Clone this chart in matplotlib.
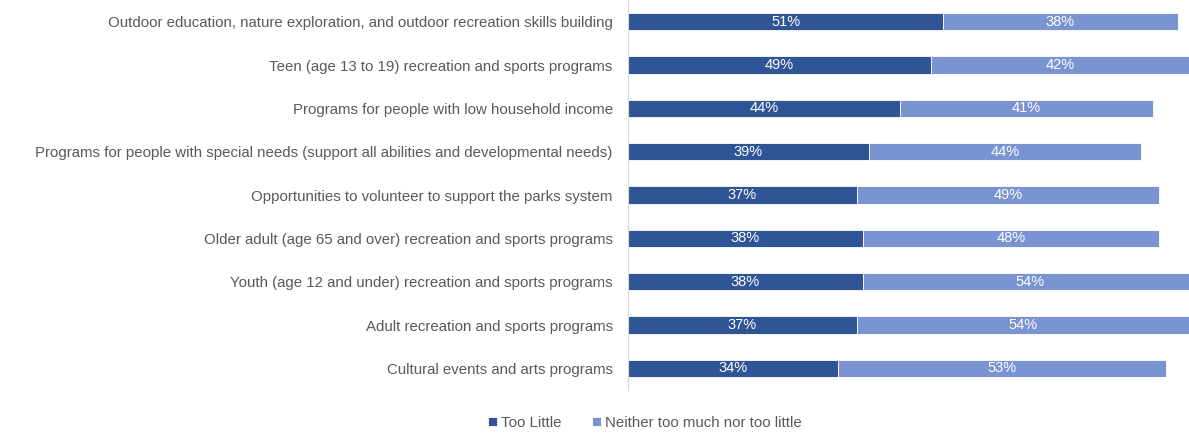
import matplotlib.pyplot as plt

categories = [
    'Outdoor education, nature exploration, and outdoor recreation skills building',
    'Teen (age 13 to 19) recreation and sports programs',
    'Programs for people with low household income',
    'Programs for people with special needs (support all abilities and developmental needs)',
    'Opportunities to volunteer to support the parks system',
    'Older adult (age 65 and over) recreation and sports programs',
    'Youth (age 12 and under) recreation and sports programs',
    'Adult recreation and sports programs',
    'Cultural events and arts programs',
]
too_little = [51, 49, 44, 39, 37, 38, 38, 37, 34]
neither = [38, 42, 41, 44, 49, 48, 54, 54, 53]
series_names = ['Too Little', 'Neither too much nor too little']
colors = ['#2F5597', '#7A93D1']

plt.rcParams['font.family'] = ['Liberation Sans', 'DejaVu Sans']

fig = plt.figure(figsize=(11.89, 4.34), dpi=100)
ax = fig.add_axes([628 / 1189, 44 / 434, 1 - 628 / 1189, 390 / 434])

y = list(range(len(categories)))
b1 = ax.barh(y, too_little, height=0.4, color=colors[0], edgecolor='white', linewidth=0.6, label=series_names[0])
b2 = ax.barh(y, neither, left=too_little, height=0.4, color=colors[1], edgecolor='white', linewidth=0.6, label=series_names[1])

for i in y:
    ax.text(too_little[i] / 2, i, f'{too_little[i]}%', ha='center', va='center', color='white', fontsize=10.5)
    ax.text(too_little[i] + neither[i] / 2, i, f'{neither[i]}%', ha='center', va='center', color='white', fontsize=10.5)

ax.set_xlim(0, 90.8)
ax.set_ylim(len(categories) - 0.5, -0.5)
ax.set_yticks(y)
ax.set_yticklabels(categories, fontsize=10.8, color='#595959')
ax.tick_params(axis='y', length=0, pad=11)
ax.set_xticks([])
for s in ['top', 'right', 'bottom']:
    ax.spines[s].set_visible(False)
ax.spines['left'].set_color('#D9D9D9')

fig.legend(handles=[b1, b2], loc='center', bbox_to_anchor=(645 / 1189, 1 - 423 / 434), ncol=2,
           frameon=False, fontsize=10.8, labelcolor='#595959', handlelength=0.6, handleheight=0.6,
           handletextpad=0.3, columnspacing=2.0)

fig.savefig('out.png', dpi=100)
